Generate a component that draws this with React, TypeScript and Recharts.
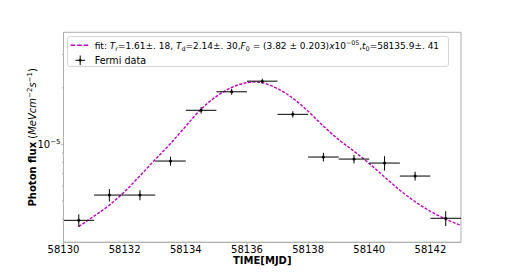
import React from 'react';
import { ComposedChart, XAxis, YAxis, Line, Scatter, ErrorBar, ReferenceArea, Legend } from 'recharts';

const timeBins = [58130.5, 58131.5, 58132.5, 58133.5, 58134.5, 58135.5, 58136.5, 58137.5, 58138.5, 58139.5, 58140.5, 58141.5, 58142.5];
const fluxValues = [3.94e-6, 5.37e-6, 5.37e-6, 8.15e-6, 1.518e-5, 1.905e-5, 2.17e-5, 1.445e-5, 8.56e-6, 8.35e-6, 7.95e-6, 6.78e-6, 4.04e-6];
const fluxErrors = [3.0e-7, 4.1e-7, 3.3e-7, 4.5e-7, 6.1e-7, 7.0e-7, 6.7e-7, 5.6e-7, 4.5e-7, 4.3e-7, 7.0e-7, 3.7e-7, 3.7e-7];
const binHalfWidths = [0.5, 0.5, 0.5, 0.5, 0.5, 0.5, 0.5, 0.5, 0.5, 0.5, 0.5, 0.5, 0.5];

const fitTimes = [58130.5, 58131, 58131.5, 58132, 58132.5, 58133, 58133.5, 58134, 58134.5, 58135, 58135.5, 58136, 58136.25, 58136.5, 58137, 58137.5, 58138, 58138.5, 58139, 58139.5, 58140, 58140.5, 58141, 58141.5, 58142, 58142.5, 58143];
const fitFlux = [3.65e-6, 4.15e-6, 4.75e-6, 5.6e-6, 6.8e-6, 8.3e-6, 1.01e-5, 1.25e-5, 1.54e-5, 1.8e-5, 2.01e-5, 2.13e-5, 2.15e-5, 2.13e-5, 1.98e-5, 1.76e-5, 1.5e-5, 1.25e-5, 1.06e-5, 9.2e-6, 7.9e-6, 6.7e-6, 5.7e-6, 4.95e-6, 4.4e-6, 4.0e-6, 3.7e-6];

const xTicks = [58130, 58132, 58134, 58136, 58138, 58140, 58142];
const yTicks = [4e-6, 5e-6, 6e-6, 7e-6, 8e-6, 9e-6, 1e-5, 2e-5, 3e-5];
const yMajorTicks = [1e-5];

const X_DOMAIN: [number, number] = [58130, 58143];
const Y_DOMAIN: [number, number] = [3.01e-6, 3.95e-5];

const FONT = '"DejaVu Sans", sans-serif';
const SPINE = '#b0b0b0';
const FIT_COLOR = '#bf00bf';

const points = timeBins.map((t, i) => ({
  t,
  f: fluxValues[i],
  xe: [binHalfWidths[i], binHalfWidths[i]],
  ye: [fluxErrors[i], fluxErrors[i]],
}));
const fitData = fitTimes.map((t, i) => ({ t, f: fitFlux[i] }));

const YTick = (props: any) => {
  const { x, y, payload } = props;
  const major = yMajorTicks.includes(payload.value);
  const len = major ? 2.5 : 1.5;
  return (
    <g>
      <line x1={x - len} x2={x} y1={y} y2={y} stroke={SPINE} strokeWidth={1} />
      {major && (
        <text x={x - 3} y={y + 3.8} textAnchor="end" fontSize={10} fontFamily={FONT} fill="#000">
          10<tspan fontSize={7} dy={-4.5}>−5</tspan>
        </text>
      )}
    </g>
  );
};

const YLabel = (props: any) => {
  const vb = props.viewBox || { x: 0, y: 32.3, width: 63.5, height: 210 };
  const cx = 36;
  const cy = vb.y + vb.height / 2;
  return (
    <text transform={`translate(${cx},${cy}) rotate(-90)`} textAnchor="middle" fontSize={10} fontFamily={FONT} fill="#000">
      <tspan fontWeight="bold">Photon flux</tspan>
      <tspan> (</tspan>
      <tspan fontStyle="italic">MeVcm</tspan>
      <tspan fontSize={7} dy={-4}>−2</tspan>
      <tspan fontStyle="italic" dy={4}>s</tspan>
      <tspan fontSize={7} dy={-4}>−1</tspan>
      <tspan dy={4}>)</tspan>
    </text>
  );
};

const XLabel = (props: any) => {
  const vb = props.viewBox || { x: 63.5, y: 242.3, width: 397.5, height: 29.7 };
  return (
    <text x={vb.x + vb.width / 2} y={vb.y + 21.2} textAnchor="middle" fontSize={10} fontWeight="bold" fontFamily={FONT} fill="#000">
      TIME[MJD]
    </text>
  );
};

const LegendBox = () => (
  <div
    style={{
      position: 'absolute',
      left: 0,
      top: 0,
      width: 382,
      height: 31.6,
      boxSizing: 'border-box',
      border: '1px solid #d6d6d6',
      borderRadius: 3,
      background: 'rgba(255,255,255,0.8)',
    }}
  >
    <svg width={382} height={32} style={{ position: 'absolute', left: -1, top: -1 }}>
      <line x1={3.7} x2={22.7} y1={9.3} y2={9.3} stroke={FIT_COLOR} strokeWidth={1.5} strokeDasharray="4.5 2" />
      <text x={27.7} y={12.6} fontSize={9} fontFamily={FONT} fill="#000">
        <tspan>fit: </tspan>
        <tspan fontStyle="italic">T</tspan>
        <tspan fontSize={6.3} dy={2}>r</tspan>
        <tspan dy={-2}>=1.61±. 18, </tspan>
        <tspan fontStyle="italic">T</tspan>
        <tspan fontSize={6.3} dy={2}>d</tspan>
        <tspan dy={-2}>=2.14±. 30,</tspan>
        <tspan fontStyle="italic">F</tspan>
        <tspan fontSize={6.3} dy={2}>0</tspan>
        <tspan dy={-2}> = (3.82 ± 0.203)</tspan>
        <tspan fontStyle="italic">x</tspan>
        <tspan>10</tspan>
        <tspan fontSize={6.3} dy={-4}>−05</tspan>
        <tspan dy={4}>,</tspan>
        <tspan fontStyle="italic">t</tspan>
        <tspan fontSize={6.3} dy={2}>0</tspan>
        <tspan dy={-2}>=58135.9±. 41</tspan>
      </text>
      <line x1={8.4} x2={18} y1={24.3} y2={24.3} stroke="#000" strokeWidth={1} />
      <line x1={13.2} x2={13.2} y1={19.5} y2={29.1} stroke="#000" strokeWidth={1} />
      <circle cx={13.2} cy={24.3} r={1.4} fill="#000" />
      <text x={27.7} y={27.8} fontSize={9.6} fontFamily={FONT} fill="#000">
        Fermi data
      </text>
    </svg>
  </div>
);

const Dot = (props: any) => {
  const { cx, cy } = props;
  if (cx == null || cy == null) return null;
  return <circle cx={cx} cy={cy} r={1.5} fill="#000" />;
};

export default function App() {
  return (
    <div style={{ position: 'absolute', left: 0, top: 0, width: 512, height: 272, background: '#fff' }}>
      <ComposedChart width={512} height={272} margin={{ top: 32.3, right: 51, left: 0, bottom: 0 }}>
        <XAxis
          type="number"
          dataKey="t"
          domain={X_DOMAIN}
          ticks={xTicks}
          interval={0}
          allowDataOverflow
          tickSize={3}
          tickMargin={1}
          height={29.7}
          axisLine={{ stroke: SPINE }}
          tickLine={{ stroke: SPINE }}
          tick={{ fill: '#000', fontSize: 10, fontFamily: FONT }}
          label={{ content: XLabel }}
        />
        <YAxis
          type="number"
          scale="log"
          domain={Y_DOMAIN}
          ticks={yTicks}
          interval={0}
          allowDataOverflow
          width={63.5}
          tickSize={0}
          tickMargin={0}
          tickLine={false}
          axisLine={{ stroke: SPINE }}
          tick={<YTick />}
          label={{ content: YLabel }}
        />
        <ReferenceArea x1={X_DOMAIN[0]} x2={X_DOMAIN[1]} y1={Y_DOMAIN[0]} y2={Y_DOMAIN[1]} fill="none" stroke={SPINE} strokeWidth={1} />
        <Line
          data={fitData}
          dataKey="f"
          type="monotone"
          stroke={FIT_COLOR}
          strokeWidth={1.4}
          strokeDasharray="3 1.5"
          dot={false}
          activeDot={false}
          isAnimationActive={false}
        />
        <Scatter data={points} dataKey="f" shape={<Dot />} isAnimationActive={false}>
          <ErrorBar dataKey="xe" direction="x" width={0} stroke="#000" strokeWidth={1} />
          <ErrorBar dataKey="ye" direction="y" width={0} stroke="#000" strokeWidth={1} />
        </Scatter>
        <Legend
          verticalAlign="middle"
          align="center"
          layout="horizontal"
          content={() => <LegendBox />}
          wrapperStyle={{ left: 67.3, top: 35.7, width: 382, height: 31.6 }}
        />
      </ComposedChart>
    </div>
  );
}
